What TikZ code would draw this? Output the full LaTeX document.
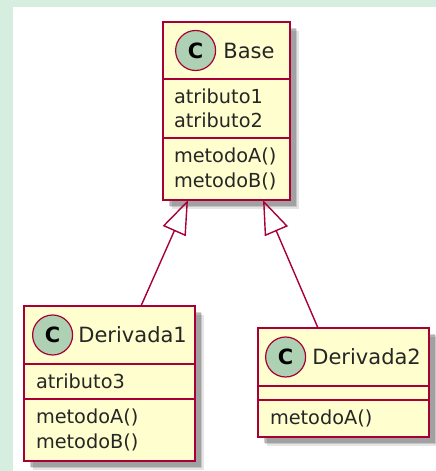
\documentclass[tikz,border=0pt]{standalone}
\usepackage{fontspec}
\setmainfont{DejaVu Sans}
\usetikzlibrary{shadows,arrows.meta,positioning}

\begin{document}
\begin{tikzpicture}[x=1pt,y=1pt]
  \tikzset{part node/.style={rectangle, draw=umlborder, fill=umlfill, line width=2pt,
		inner sep=0pt, outer sep=0pt, anchor=north,
		drop shadow={shadow xshift=8.5pt, shadow yshift=-8.5pt, fill=black, opacity=0.10},
		drop shadow={shadow xshift=7pt, shadow yshift=-7pt, fill=black, opacity=0.14},
		drop shadow={shadow xshift=5.5pt, shadow yshift=-5.5pt, fill=black, opacity=0.18}}, }
\tikzset{member node/.style={part node, align=left, text=black!85,
		font=\fontsize{19.3}{24.5}\selectfont}, }
\tikzset{badge node/.style={circle, draw=umlborder, fill=umlbadge, line width=1.2pt,
		minimum size=40pt, inner sep=0pt, font=\fontsize{21}{21}\selectfont\bfseries}, }
\tikzset{title node/.style={inner sep=0pt, text=black!85,
		font=\fontsize{21}{21}\selectfont}, }
\tikzset{linea/.style={-{Triangle[open,length=34pt,width=25pt]}, draw=umlborder, line width=1.4pt},}
\definecolor{umlborder}{HTML}{A80036}
\definecolor{umlfill}{HTML}{FEFECE}
\definecolor{umlbadge}{HTML}{ADD1B2}
\definecolor{umlback}{HTML}{D5EEDF}
  \useasboundingbox (0,0) rectangle (436,-471);
  \fill[umlback] (0,0) rectangle (436,-7);
  \fill[umlback] (0,0) rectangle (13,-471);
%
    \node[part node, minimum width=127pt, minimum height=57pt] (base) at (226.5,-22) {};
    \node[member node, minimum width=127pt, minimum height=59pt, text width=105pt] (basea) [below=0pt of base] {atributo1\\atributo2};
    \node[member node, minimum width=127pt, minimum height=62pt, text width=105pt] (basem) [below=0pt of basea] {metodoA()\\metodoB()};
    \node[badge node] (basec) [right=12pt of base.west] {C};
    \node[title node] (baset) [right=7pt of basec] {Base};
%
    \node[part node, minimum width=171pt, minimum height=58pt] (der1) at (109.5,-306) {};
    \node[member node, minimum width=171pt, minimum height=35pt, text width=147pt] (der1a) [below=0pt of der1] {atributo3};
    \node[member node, minimum width=171pt, minimum height=62pt, text width=147pt] (der1m) [below=0pt of der1a] {metodoA()\\metodoB()};
    \node[badge node] (der1c) [right=8pt of der1.west] {C};
    \node[title node] (der1t) [right=5pt of der1c] {Derivada1};
%
    \node[part node, minimum width=171pt, minimum height=58pt] (der2) at (343.5,-328) {};
    \node[member node, minimum width=171pt, minimum height=14pt] (der2a) [below=0pt of der2] {};
    \node[member node, minimum width=171pt, minimum height=37pt, text width=147pt] (der2m) [below=0pt of der2a] {metodoA()};
    \node[badge node] (der2c) [right=7pt of der2.west] {C};
    \node[title node] (der2t) [right=6pt of der2c] {Derivada2};
%
\foreach \x /\y /\a /\b in {der1/basem/31.5/-38.5,der2/basem/-25.5/36.5}
  \path ([xshift=\a pt]\x.north) edge[linea] node {} ([xshift=\b pt]\y.south);
%
\end{tikzpicture}
\end{document}
